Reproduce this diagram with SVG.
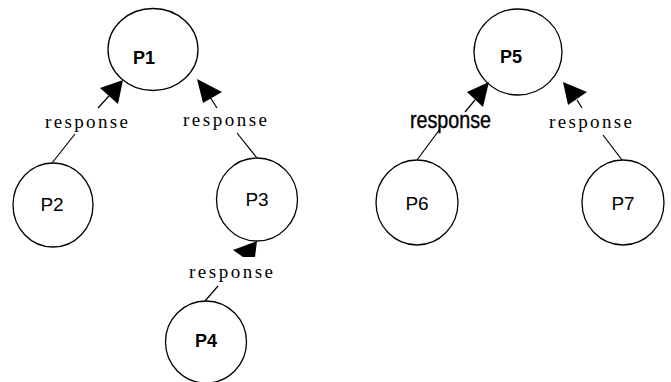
<svg xmlns="http://www.w3.org/2000/svg" width="671" height="382" viewBox="0 0 671 382">
<style>
.node{fill:none;stroke:#000;stroke-width:1.3}
.lbl{font-family:"Liberation Sans",Arial,sans-serif;font-size:19px;fill:#000;text-anchor:middle}
.b{font-weight:bold;font-size:18px}
.edge{stroke:#000;stroke-width:1.2;fill:none}
.head{fill:#000;stroke:none}
.rs{font-family:"Liberation Serif","Times New Roman",serif;font-size:19px;fill:#000}
.rn{font-family:"Liberation Sans",Arial,sans-serif;font-size:23px;fill:#000;stroke:#000;stroke-width:0.4}
</style>
<rect width="671" height="382" fill="#fff"/>
<g id="P1"><ellipse class="node" cx="153" cy="49.5" rx="45" ry="41"/><text class="lbl b" x="144" y="64">P1</text></g>
<g id="P2"><ellipse class="node" cx="53" cy="205" rx="40" ry="42"/><text class="lbl" x="52" y="211">P2</text></g>
<g id="P3"><ellipse class="node" cx="257" cy="199.5" rx="40.5" ry="41.5"/><text class="lbl" x="257" y="206">P3</text></g>
<g id="P4"><ellipse class="node" cx="206" cy="342" rx="40.5" ry="41"/><text class="lbl b" x="206" y="347">P4</text></g>
<g id="P5"><ellipse class="node" cx="518" cy="52" rx="44" ry="43"/><text class="lbl b" x="511" y="63">P5</text></g>
<g id="P6"><ellipse class="node" cx="417" cy="202.5" rx="41" ry="42.5"/><text class="lbl" x="417" y="210">P6</text></g>
<g id="P7"><ellipse class="node" cx="623" cy="202.5" rx="41" ry="42.5"/><text class="lbl" x="623" y="210">P7</text></g>
<g id="connectors">
<g id="e-P2-P1">
<line class="edge" x1="52" y1="163" x2="75" y2="134"/>
<line class="edge" x1="98" y1="108" x2="109" y2="96"/>
<polygon class="head" points="123,80 100,88 118,104"/>
<text class="rs" x="45" y="128" textLength="83" lengthAdjust="spacing">response</text>
</g>
<g id="e-P3-P1">
<line class="edge" x1="257" y1="158" x2="237" y2="133"/>
<line class="edge" x1="217" y1="108" x2="210" y2="97"/>
<polygon class="head" points="197,79 222,92 203,103"/>
<text class="rs" x="183" y="126" textLength="84" lengthAdjust="spacing">response</text>
</g>
<g id="e-P4-P3">
<line class="edge" x1="205" y1="301" x2="218" y2="286"/>
<polygon class="head" points="257,241 233,250 243,257 255,257"/>
<text class="rs" x="189" y="278" textLength="84" lengthAdjust="spacing">response</text>
</g>
<g id="e-P6-P5">
<line class="edge" x1="417" y1="160" x2="440" y2="129"/>
<line class="edge" x1="465" y1="112" x2="475" y2="100"/>
<polygon class="head" points="489,82 467,92 483,107"/>
<text class="rn" x="410" y="128" textLength="81" lengthAdjust="spacingAndGlyphs">response</text>
</g>
<g id="e-P7-P5">
<line class="edge" x1="622" y1="160" x2="603" y2="135"/>
<line class="edge" x1="582" y1="108" x2="577" y2="100"/>
<polygon class="head" points="563,82 587,92 568,105"/>
<text class="rs" x="549" y="128" textLength="83" lengthAdjust="spacing">response</text>
</g>
</g>
</svg>
